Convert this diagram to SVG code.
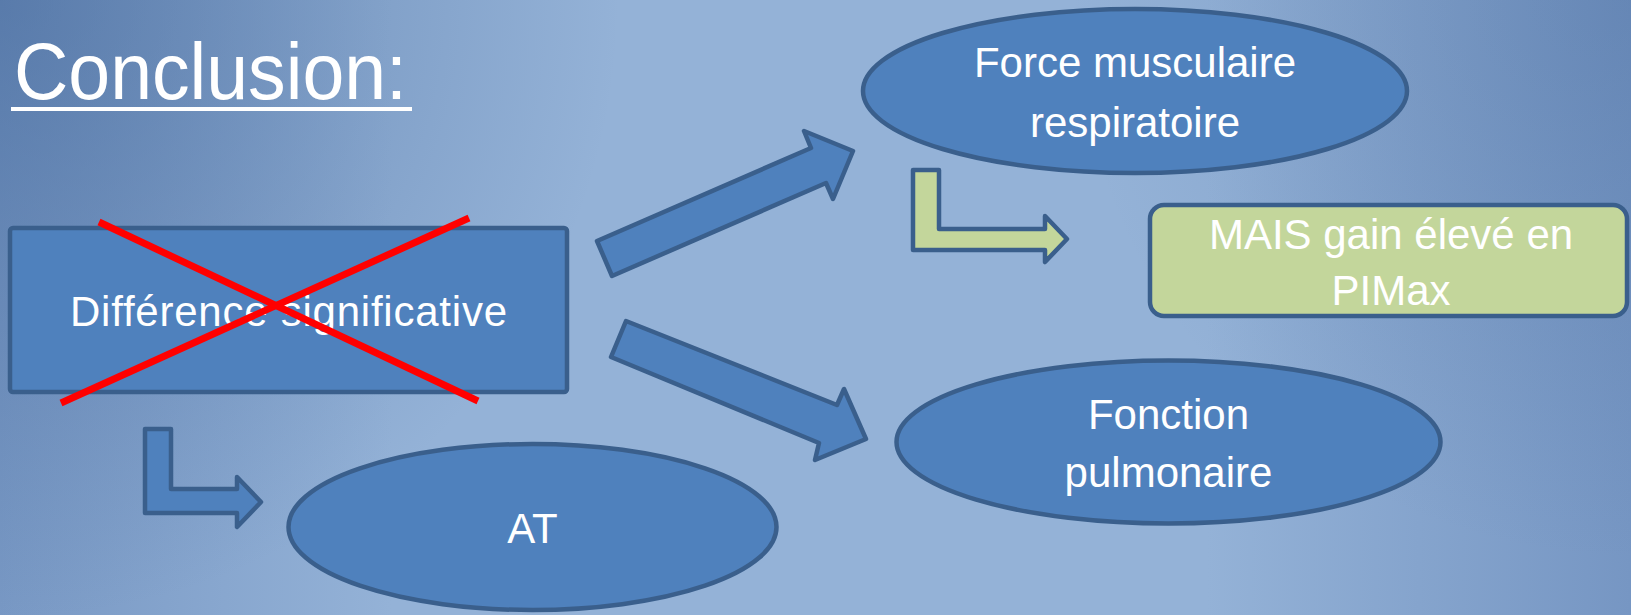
<svg xmlns="http://www.w3.org/2000/svg" width="1631" height="615" viewBox="0 0 1631 615">
  <defs>
    <linearGradient id="bgH" x1="0" y1="0" x2="1631" y2="0" gradientUnits="userSpaceOnUse">
      <stop offset="0" stop-color="#7898C4"/>
      <stop offset="0.24" stop-color="#94B2D7"/>
      <stop offset="0.74" stop-color="#94B2D7"/>
      <stop offset="1" stop-color="#7696C3"/>
    </linearGradient>
    <radialGradient id="bgTL" cx="0" cy="0" r="620" gradientUnits="userSpaceOnUse">
      <stop offset="0" stop-color="#3F6396" stop-opacity="0.55"/>
      <stop offset="1" stop-color="#3F6396" stop-opacity="0"/>
    </radialGradient>
    <radialGradient id="bgTR" cx="1631" cy="0" r="560" gradientUnits="userSpaceOnUse">
      <stop offset="0" stop-color="#3F6396" stop-opacity="0.3"/>
      <stop offset="1" stop-color="#3F6396" stop-opacity="0"/>
    </radialGradient>
    <style>
      .shape { fill: #4F81BD; stroke: #3A5F8C; stroke-width: 4.5; stroke-linejoin: round; }
      .green { fill: #C3D69B; stroke: #3A5F8C; stroke-width: 4.5; stroke-linejoin: round; }
      .lbl { font-family: "Liberation Sans", Arial, sans-serif; fill: #FFFFFF; text-anchor: middle; font-size: 42px; }
      .cross { stroke: #FF0000; stroke-width: 7; stroke-linecap: butt; }
    </style>
  </defs>

  <rect x="0" y="0" width="1631" height="615" fill="url(#bgH)"/>
  <rect x="0" y="0" width="1631" height="615" fill="url(#bgTL)"/>
  <rect x="0" y="0" width="1631" height="615" fill="url(#bgTR)"/>

  <g id="title">
    <text x="14" y="99" font-family="Liberation Sans, Arial, sans-serif" font-size="80" fill="#FFFFFF" textLength="393" lengthAdjust="spacingAndGlyphs">Conclusion:</text>
    <rect x="11" y="107" width="401" height="4" fill="#FFFFFF"/>
  </g>

  <g id="connectors">
    <path class="shape" d="M612,276 L597,241 L811,148 L804,131 L853,151 L833,199 L826,183 Z"/>
    <path class="shape" d="M626,321 L611,357 L819,443 L815,460 L866,439 L844,389 L837,405 Z"/>
    <path class="shape" d="M145,429 L171,429 L171,489 L237,489 L237,477 L261,502 L237,527 L237,513 L145,513 Z"/>
    <path class="green" d="M913,170 L939,170 L939,229 L1045,229 L1045,216 L1067,239 L1045,262 L1045,250 L913,250 Z"/>
  </g>

  <g id="node-difference">
    <rect class="shape" x="10" y="228" width="557" height="164" rx="3"/>
    <text class="lbl" x="288.5" y="326" font-size="43" textLength="437" lengthAdjust="spacing">Différence significative</text>
    <line class="cross" x1="99" y1="222" x2="478" y2="401"/>
    <line class="cross" x1="469" y1="218" x2="61" y2="403"/>
  </g>

  <g id="node-at">
    <ellipse class="shape" cx="532.5" cy="527" rx="244" ry="83"/>
    <text class="lbl" x="532.5" y="543">AT</text>
  </g>

  <g id="node-force">
    <ellipse class="shape" cx="1135" cy="91" rx="272" ry="82"/>
    <text class="lbl" x="1135" y="77">Force musculaire</text>
    <text class="lbl" x="1135" y="136.5">respiratoire</text>
  </g>

  <g id="node-mais">
    <rect class="green" x="1150" y="205" width="477" height="111" rx="14"/>
    <text class="lbl" x="1391" y="249">MAIS gain élevé en</text>
    <text class="lbl" x="1391" y="305">PIMax</text>
  </g>

  <g id="node-fonction">
    <ellipse class="shape" cx="1168.5" cy="442" rx="272" ry="81.5"/>
    <text class="lbl" x="1168.5" y="428.5">Fonction</text>
    <text class="lbl" x="1168.5" y="487">pulmonaire</text>
  </g>
</svg>
